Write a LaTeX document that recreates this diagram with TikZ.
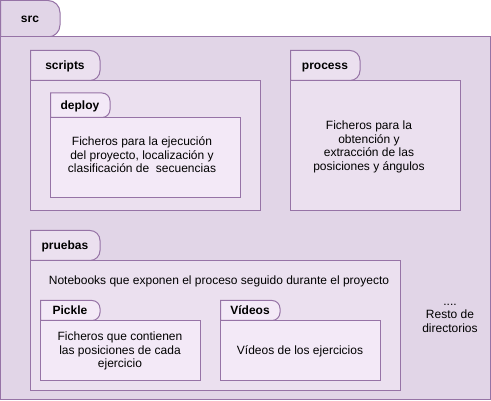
\documentclass[tikz,border=0pt]{standalone}
\usepackage{fontspec}
\setmainfont{Liberation Sans}
\definecolor{edgepurple}{HTML}{9673A6}
\definecolor{fillA}{HTML}{E1D5E7}
\definecolor{fillB}{HTML}{EBE0EF}
\definecolor{fillC}{HTML}{F3E9F7}
\tikzset{folder/.style={draw=edgepurple, line width=1pt}}
\tikzset{folderbody/.style={folder, rectangle, anchor=north west, inner sep=0pt, outer sep=0pt}}
\tikzset{tablabel/.style={font=\bfseries\fontsize{12}{14}\selectfont, inner sep=0pt, text height=8.8pt, text depth=2.6pt}}
\tikzset{bodytext/.style={font=\fontsize{12}{13.5}\selectfont, align=center, inner sep=0pt}}
% tab of a folder: x1, y1, x2, y2, radius, fill
\newcommand{\foldtab}[6]{%
  \draw[folder, fill=#6] (#1,#4) -- (#1,#2) -- ({#3-#5},#2)
    arc[start angle=90, end angle=0, radius=#5pt] -- (#3,{#4-#5})
    arc[start angle=0, end angle=-90, radius=#5pt] -- cycle;}

\begin{document}
\begin{tikzpicture}[x=1pt,y=-1pt]
    \useasboundingbox (0,0) rectangle (491,401);
    % src
    \foldtab{0.5}{0.5}{60}{37}{12}{fillA}
    \node[folderbody, fill=fillA, minimum width=490pt, minimum height=363pt] (src) at (0.5,37) {};
    \node[tablabel] (srclbl) at (30,19) {src};
    % scripts
    \foldtab{30.5}{50.5}{100}{80.5}{10}{fillB}
    \node[folderbody, fill=fillB, minimum width=230pt, minimum height=130pt] (scripts) at (30.5,80.5) {};
    \node[tablabel] (scriptslbl) at (65,66) {scripts};
    % deploy
    \foldtab{50.5}{93}{110}{117.5}{8}{fillC}
    \node[folderbody, fill=fillC, minimum width=190pt, minimum height=80pt] (deploy) at (50.5,117.5) {};
    \node[tablabel] (deploylbl) at (80,106) {deploy};
    \node[bodytext] (deploytxt) at (142,155) {Ficheros para la ejecución\\del proyecto, localización y\\clasificación de \ secuencias};
    % process
    \foldtab{290.5}{50.5}{360}{80.5}{10}{fillB}
    \node[folderbody, fill=fillB, minimum width=170pt, minimum height=130pt] (process) at (290.5,80.5) {};
    \node[tablabel] (processlbl) at (325,66) {process};
    \node[bodytext] (processtxt) at (369,147) {Ficheros para la\\obtención y\\extracción de las\\posiciones y ángulos};
    % pruebas
    \foldtab{30.5}{230.5}{100}{260.5}{10}{fillB}
    \node[folderbody, fill=fillB, minimum width=370pt, minimum height=130pt] (pruebas) at (30.5,260.5) {};
    \node[tablabel] (pruebaslbl) at (65,246) {pruebas};
    \node[bodytext] (pruebastxt) at (219,281) {Notebooks que exponen el proceso seguido durante el proyecto};
    % Pickle
    \foldtab{40.5}{300.5}{100}{320.5}{8}{fillC}
    \node[folderbody, fill=fillC, minimum width=160pt, minimum height=60pt] (pickle) at (40.5,320.5) {};
    \node[tablabel] (picklelbl) at (70,311) {Pickle};
    \node[bodytext] (pickletxt) at (120,351) {Ficheros que contienen\\las posiciones de cada\\ejercicio};
    % Videos
    \foldtab{220.5}{300.5}{280}{320.5}{8}{fillC}
    \node[folderbody, fill=fillC, minimum width=160pt, minimum height=60pt] (videos) at (220.5,320.5) {};
    \node[tablabel] (videoslbl) at (250,311) {Vídeos};
    \node[bodytext] (videostxt) at (300,351) {Vídeos de los ejercicios};
    % rest
    \node[bodytext] (resto) at (450,318) {....\\Resto de\\directorios};
\end{tikzpicture}
\end{document}
